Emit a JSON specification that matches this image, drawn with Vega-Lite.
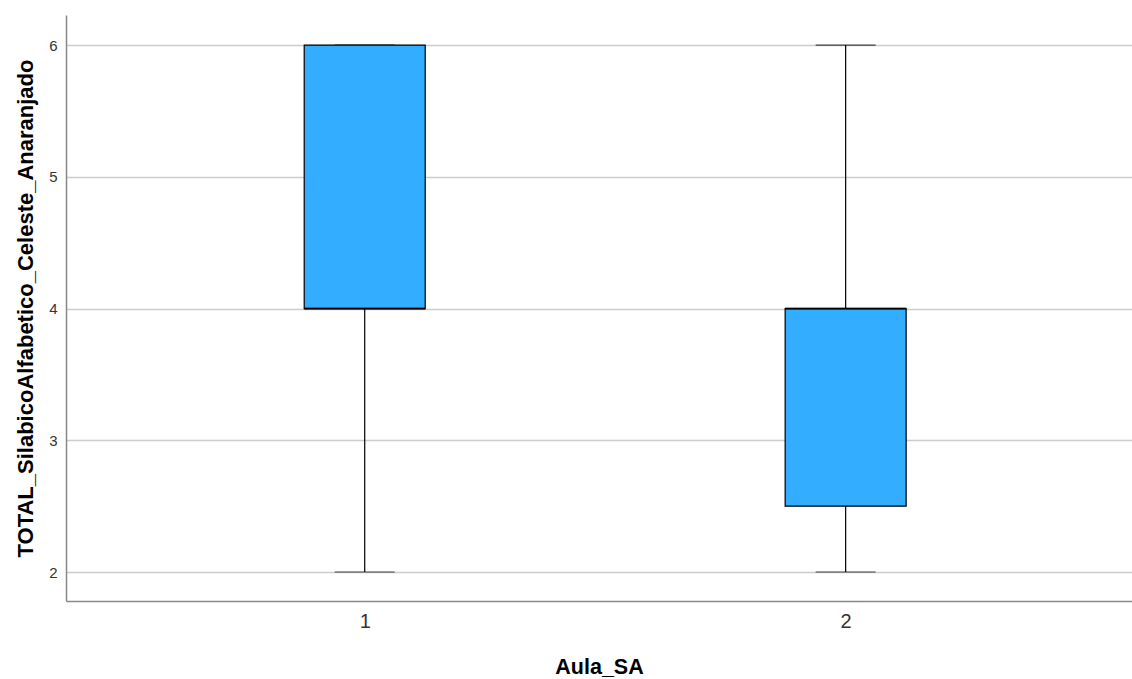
{
  "$schema": "https://vega.github.io/schema/vega-lite/v6.json",
  "width": 1066,
  "height": 586,
  "autosize": {"type": "none"},
  "padding": {"left": 66, "top": 15, "right": 0, "bottom": 78},
  "background": "white",
  "config": {
    "view": {"stroke": null},
    "font": "Liberation Sans"
  },
  "data": {
    "values": [
      {"Aula_SA": 1, "min": 2, "q1": 4, "median": 4, "q3": 6, "max": 6},
      {"Aula_SA": 2, "min": 2, "q1": 2.5, "median": 4, "q3": 4, "max": 6}
    ]
  },
  "encoding": {
    "x": {
      "field": "Aula_SA",
      "type": "quantitative",
      "scale": {"domain": [0.3893, 2.585], "nice": false, "zero": false},
      "axis": {
        "title": "Aula_SA",
        "values": [1, 2],
        "format": "d",
        "grid": false,
        "ticks": false,
        "domainColor": "#888888",
        "domainWidth": 1.5,
        "labelFontSize": 20,
        "labelColor": "#333333",
        "labelFontWeight": "normal",
        "labelPadding": 10,
        "titleFontSize": 21.5,
        "titleFontWeight": "bold",
        "titleColor": "#000000",
        "titleBaseline": "alphabetic",
        "titleY": 72
      }
    }
  },
  "layer": [
    {
      "mark": {"type": "rule", "color": "#000000", "strokeWidth": 1.2},
      "encoding": {
        "y": {
          "field": "min",
          "type": "quantitative",
          "scale": {"domain": [1.78, 6.228], "nice": false, "zero": false},
          "axis": {
            "title": "TOTAL_SilabicoAlfabetico_Celeste_Anaranjado",
            "values": [2, 3, 4, 5, 6],
            "format": "d",
            "grid": true,
            "gridColor": "#cccccc",
            "gridWidth": 1.5,
            "ticks": false,
            "domainColor": "#888888",
            "domainWidth": 1.5,
            "labelFontSize": 15,
            "labelColor": "#333333",
            "labelPadding": 9,
            "titleFontSize": 22,
            "titleFontWeight": "bold",
            "titleColor": "#000000",
            "titleBaseline": "alphabetic",
            "titleX": -34,
            "titleY": 293
          }
        },
        "y2": {"field": "max"}
      }
    },
    {
      "mark": {"type": "tick", "orient": "horizontal", "color": "#000000", "size": 60, "thickness": 1.2},
      "encoding": {"y": {"field": "min", "type": "quantitative"}}
    },
    {
      "mark": {"type": "tick", "orient": "horizontal", "color": "#000000", "size": 60, "thickness": 1.2},
      "encoding": {"y": {"field": "max", "type": "quantitative"}}
    },
    {
      "mark": {"type": "bar", "size": 121, "fill": "#33adff", "stroke": "#000000", "strokeWidth": 1.2},
      "encoding": {
        "y": {"field": "q1", "type": "quantitative"},
        "y2": {"field": "q3"}
      }
    },
    {
      "mark": {"type": "tick", "orient": "horizontal", "color": "#000000", "size": 121, "thickness": 2.2},
      "encoding": {"y": {"field": "median", "type": "quantitative"}}
    }
  ]
}
